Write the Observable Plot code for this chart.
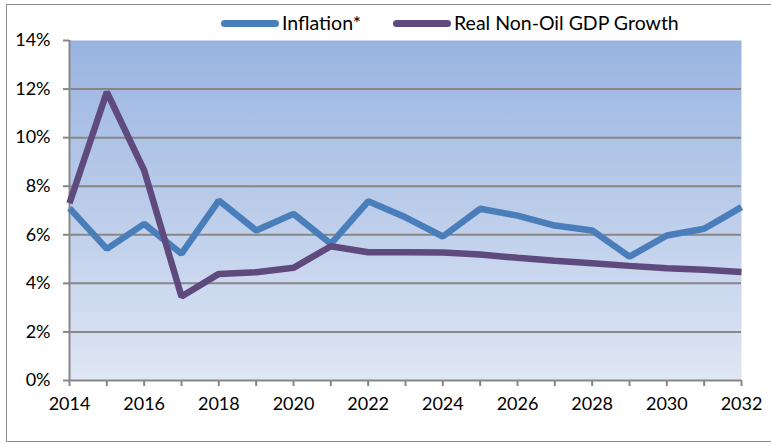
<!DOCTYPE html>
<html><head><meta charset="utf-8">
<script src="https://cdn.jsdelivr.net/npm/d3@7"></script>
<script src="https://cdn.jsdelivr.net/npm/@observablehq/plot@0.6"></script>
<style>
body{margin:0;background:#fff;}
#wrap{position:relative;width:771px;height:442px;overflow:hidden;font-family:Lato,sans-serif;}
#frame{position:absolute;left:6px;top:4px;width:820px;height:438px;border:1.5px solid #8c8c8c;box-sizing:border-box;pointer-events:none;}
.item{position:absolute;top:11px;height:24px;display:flex;align-items:center;font-size:19.5px;line-height:24px;color:#000;white-space:nowrap;}
.sw{display:inline-block;width:58px;height:7px;border-radius:4px;margin-right:3px;}
#chart{position:absolute;left:0;top:0;}
</style></head><body>
<div id="wrap"><div id="chart"></div><div id="frame"></div><div id="legend"></div></div>
<script>
const years = [2014,2015,2016,2017,2018,2019,2020,2021,2022,2023,2024,2025,2026,2027,2028,2029,2030,2031,2032];
const inflation = [7.1,5.42,6.45,5.22,7.41,6.18,6.86,5.63,7.38,6.72,5.93,7.07,6.79,6.38,6.18,5.1,5.97,6.25,7.14];
const gdp = [7.3,11.88,8.65,3.46,4.39,4.46,4.64,5.53,5.28,5.28,5.27,5.19,5.05,4.93,4.83,4.72,4.62,4.56,4.47];
const seriesNames = ["Inflation*","Real Non-Oil GDP Growth"];
const seriesColors = ["#4a7ebb","#5f4a7d"];
const yTicks = [0,2,4,6,8,10,12,14];
const gridTicks = [2,4,6,8,10,12];

const data = years.map((y,i)=>({year:y, inflation:inflation[i], gdp:gdp[i]}));

const svg = Plot.plot({
  width: 771, height: 442,
  marginLeft: 69, marginRight: 30, marginTop: 40, marginBottom: 62,
  style: {background: "transparent", fontFamily: "Lato, sans-serif", fontSize: "18px", color: "#000"},
  x: {domain: [2014, 2032]},
  y: {domain: [0, 14]},
  marks: [
    Plot.frame({fill: "url(#bgGrad)", stroke: null}),
    Plot.gridY(gridTicks, {stroke: "#878787", strokeOpacity: 1, strokeWidth: 2}),
    Plot.ruleX([2014], {stroke: "#878787", strokeWidth: 2}),
    Plot.ruleY([0], {stroke: "#878787", strokeWidth: 2}),
    Plot.axisY({ticks: yTicks, tickSize: 6, tickPadding: 13, tickFormat: d => d + "%", stroke: "#878787", strokeWidth: 2, fill: "#000", label: null}),
    Plot.axisX({ticks: years, tickSize: 6, tickPadding: 11, tickFormat: d => d % 2 === 0 ? String(d) : "", stroke: "#878787", strokeWidth: 2, fill: "#000", label: null}),
    Plot.line(data, {x: "year", y: "inflation", stroke: seriesColors[0], strokeWidth: 6.5, strokeLinejoin: "miter", strokeLinecap: "butt"}),
    Plot.line(data, {x: "year", y: "gdp", stroke: seriesColors[1], strokeWidth: 6.5, strokeLinejoin: "miter", strokeLinecap: "butt"})
  ]
});

const defs = d3.select(svg).insert("defs", ":first-child");
const g = defs.append("linearGradient").attr("id", "bgGrad").attr("x1", 0).attr("y1", 0).attr("x2", 0).attr("y2", 1);
g.append("stop").attr("offset", "0%").attr("stop-color", "#99b4e1");
g.append("stop").attr("offset", "100%").attr("stop-color", "#dfe6f4");

document.getElementById("chart").appendChild(svg);

const legend = document.getElementById("legend");
const legendLefts = [221, 393];
seriesNames.forEach((n, i) => {
  const it = document.createElement("div");
  it.className = "item";
  it.style.left = legendLefts[i] + "px";
  const sw = document.createElement("span");
  sw.className = "sw";
  sw.style.background = seriesColors[i];
  const t = document.createElement("span");
  t.textContent = n;
  it.appendChild(sw); it.appendChild(t);
  legend.appendChild(it);
});
</script>
</body></html>
